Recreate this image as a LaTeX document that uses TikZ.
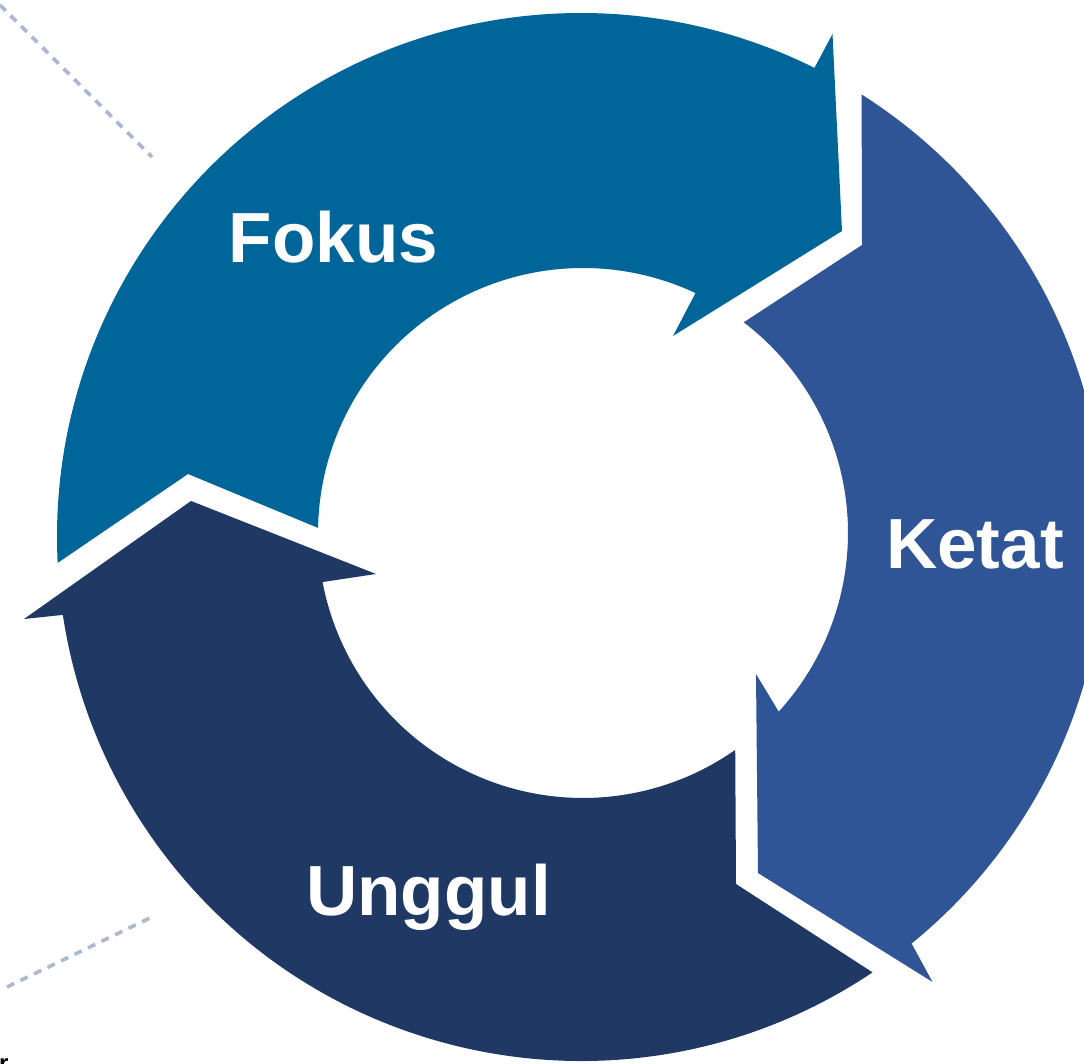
\documentclass[tikz,border=0pt]{standalone}
\usepackage{fontspec}
\setmainfont{Liberation Sans}
\definecolor{fokusc}{HTML}{006699}
\definecolor{ketatc}{HTML}{2F5597}
\definecolor{unggulc}{HTML}{203864}
\definecolor{dashc}{HTML}{ADB9CA}
\begin{document}
\begin{tikzpicture}[x=1pt,y=1pt,
  seg/.style={draw=none},
  lbl/.style={text=white,font=\bfseries\fontsize{71}{82}\selectfont,inner sep=0pt,anchor=base},
  guide/.style={draw=dashc,line width=3.6pt,dash pattern=on 8pt off 7pt}]
\fill[white] (0,0) rectangle (1084,1064);
\useasboundingbox (0,0) rectangle (1084,1064);
\coordinate (cO) at (581,527);
\coordinate (cI) at (583,531);

% dashed guide lines
\coordinate (g1a) at (0,1059);
\coordinate (g1b) at (152,907);
\coordinate (g2a) at (7,77);
\coordinate (g2b) at (152,147);
\draw[guide] (g1a) -- (g1b);
\draw[guide] (g2a) -- (g2b);

% Fokus
\fill[fokusc,seg] ([shift={(581,527)}]182.84:524) arc[start angle=182.84,end angle=63.54,radius=524]
  -- (832.5,1030) -- (842,833) -- (673,728)
  -- ([shift={(583,531)}]64.88:265) arc[start angle=64.88,end angle=178.9,radius=265]
  -- (188,590) -- cycle;
% Ketat
\fill[ketatc,seg] ([shift={(581,527)}]57.62:524) arc[start angle=57.62,end angle=-50.88,radius=524]
  -- (932.5,82) -- (758,191) -- (756,390)
  -- ([shift={(583,531)}]-42.39:265) arc[start angle=-42.39,end angle=52.66,radius=265]
  -- (862,819) -- cycle;
% Unggul
\fill[unggulc,seg] ([shift={(581,527)}]-56.19:524) arc[start angle=-56.19,end angle=-171.45,radius=524]
  -- (24,445) -- (191,563) -- (376,490)
  -- ([shift={(583,531)}]-169.33:265) arc[start angle=-169.33,end angle=-54.94,radius=265]
  -- (736,180) -- cycle;

\node[lbl] (fokus) at (333.5,801) {Fokus};
\node[lbl] (ketat) at (975,495) {Ketat};
\node[lbl] (unggul) at (428.5,148) {Unggul};
\node[inner sep=0pt,anchor=base west,font=\bfseries\fontsize{24}{28}\selectfont] (frag) at (-1,-8) {r};
\end{tikzpicture}
\end{document}
